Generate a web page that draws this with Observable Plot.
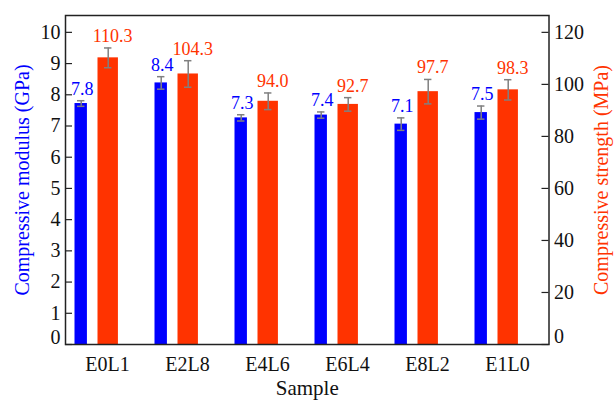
<!DOCTYPE html>
<html>
<head>
<meta charset="utf-8">
<script src="https://cdn.jsdelivr.net/npm/d3@7"></script>
<script src="https://cdn.jsdelivr.net/npm/@observablehq/plot@0.6"></script>
<style>
  body { margin: 0; background: #fff; }
</style>
</head>
<body>
<div id="chart"></div>
<script>
const samples = ["E0L1", "E2L8", "E4L6", "E6L4", "E8L2", "E1L0"];
const modulus = [7.72, 8.38, 7.26, 7.35, 7.06, 7.43];      // GPa
const modulusErr = [0.09, 0.2, 0.1, 0.1, 0.2, 0.21];
const modulusLabels = ["7.8", "8.4", "7.3", "7.4", "7.1", "7.5"];
const strength = [110.2, 104.0, 93.5, 92.3, 97.2, 97.9];   // MPa
const strengthErr = [3.8, 5.1, 3.2, 2.6, 4.7, 3.9];
const strengthLabels = ["110.3", "104.3", "94.0", "92.7", "97.7", "98.3"];
const leftTicks = [0, 1, 2, 3, 4, 5, 6, 7, 8, 9, 10];
const rightTicks = [0, 20, 40, 60, 80, 100, 120];

const ratio = 12; // MPa per GPa on the twin axis
const blue = "#0000ff", red = "#ff3300", grey = "#808080";

const W = 614, H = 401;
const mL = 65, mR = 65.5, mT = 15, mB = 57;
const plotW = W - mL - mR;
const step = plotW / samples.length;

const data = samples.map((s, i) => ({
  sample: s,
  mod: modulus[i], modErr: modulusErr[i], modLabel: modulusLabels[i],
  str: strength[i], strErr: strengthErr[i], strLabel: strengthLabels[i]
}));

// bar geometry inside each band
const bIn = 7.5, bW = 13, rIn = 30.5, rW = 21, capW = 8;
const bC = bIn + bW / 2, rC = rIn + rW / 2;
const font = "Liberation Serif";

const chart = Plot.plot({
  width: W, height: H,
  marginLeft: mL, marginRight: mR, marginTop: mT, marginBottom: mB,
  style: { fontFamily: font, background: "#fff" },
  x: { type: "band", domain: samples, padding: 0 },
  y: { domain: [0, 10.54] },
  marks: [
    // bars
    Plot.barY(data, { x: "sample", y: "mod", fill: blue, insetLeft: bIn, insetRight: step - bIn - bW }),
    Plot.barY(data, { x: "sample", y: d => d.str / ratio, fill: red, insetLeft: rIn, insetRight: step - rIn - rW }),
    // error bars
    Plot.ruleX(data, { x: "sample", y1: d => d.mod - d.modErr, y2: d => d.mod + d.modErr, dx: bC - step / 2, stroke: grey, strokeWidth: 1.5 }),
    Plot.tickY(data, { x: "sample", y: d => d.mod - d.modErr, stroke: grey, strokeWidth: 1.5, insetLeft: bC - capW / 2, insetRight: step - bC - capW / 2 }),
    Plot.tickY(data, { x: "sample", y: d => d.mod + d.modErr, stroke: grey, strokeWidth: 1.5, insetLeft: bC - capW / 2, insetRight: step - bC - capW / 2 }),
    Plot.ruleX(data, { x: "sample", y1: d => (d.str - d.strErr) / ratio, y2: d => (d.str + d.strErr) / ratio, dx: rC - step / 2, stroke: grey, strokeWidth: 1.5 }),
    Plot.tickY(data, { x: "sample", y: d => (d.str - d.strErr) / ratio, stroke: grey, strokeWidth: 1.5, insetLeft: rC - capW / 2, insetRight: step - rC - capW / 2 }),
    Plot.tickY(data, { x: "sample", y: d => (d.str + d.strErr) / ratio, stroke: grey, strokeWidth: 1.5, insetLeft: rC - capW / 2, insetRight: step - rC - capW / 2 }),
    // value labels
    Plot.text(data, { x: "sample", y: d => d.mod + d.modErr, text: "modLabel", dx: bC - step / 2 + 1, dy: -6, lineAnchor: "bottom", fill: blue, fontSize: 18, fontFamily: font }),
    Plot.text(data, { x: "sample", y: d => (d.str + d.strErr) / ratio, text: "strLabel", dx: rC - step / 2 + 4.5, dy: -6, lineAnchor: "bottom", fill: red, fontSize: 18, fontFamily: font }),
    // frame
    Plot.frame({ stroke: "#222", strokeWidth: 1.5 }),
    // inward ticks
    Plot.tickY(leftTicks, { y: d => d, stroke: "#222", strokeWidth: 1.2, insetRight: plotW - 7 }),
    Plot.tickY(rightTicks, { y: d => d / ratio, stroke: "#222", strokeWidth: 1.2, insetLeft: plotW - 7 }),
    // axes
    Plot.axisY({ ticks: leftTicks.filter(d => d > 0), tickSize: 0, tickPadding: 5, label: null, fontSize: 20, fontFamily: font, fill: "#111" }),
    Plot.text([0], { y: d => d, frameAnchor: "left", dx: -5, dy: -7, textAnchor: "end", text: d => String(d), fontSize: 20, fontFamily: font, fill: "#111" }),
    Plot.axisY({ anchor: "right", ticks: rightTicks.filter(d => d > 0).map(d => d / ratio), tickFormat: d => String(Math.round(d * ratio)), tickSize: 0, tickPadding: 5, label: null, fontSize: 20, fontFamily: font, fill: "#111" }),
    Plot.text([0], { y: d => d, frameAnchor: "right", dx: 5, dy: -8, textAnchor: "start", text: d => String(d), fontSize: 20, fontFamily: font, fill: "#111" }),
    Plot.axisX({ tickSize: 0, tickPadding: 12, label: null, fontSize: 20, fontFamily: font, fill: "#111" }),
    // axis titles
    Plot.text(["Sample"], { frameAnchor: "bottom", dy: 50.5, lineAnchor: "bottom", text: d => d, fontSize: 21, fontFamily: font, fill: "#111" }),
    Plot.text(["Compressive modulus (GPa)"], { frameAnchor: "left", dx: -43, rotate: -90, textAnchor: "middle", lineAnchor: "middle", text: d => d, fontSize: 20, fontFamily: font, fill: blue }),
    Plot.text(["Compressive strength (MPa)"], { frameAnchor: "right", dx: 52.5, rotate: -90, textAnchor: "middle", lineAnchor: "middle", text: d => d, fontSize: 20, fontFamily: font, fill: red })
  ]
});
document.getElementById("chart").appendChild(chart);
</script>
</body>
</html>
